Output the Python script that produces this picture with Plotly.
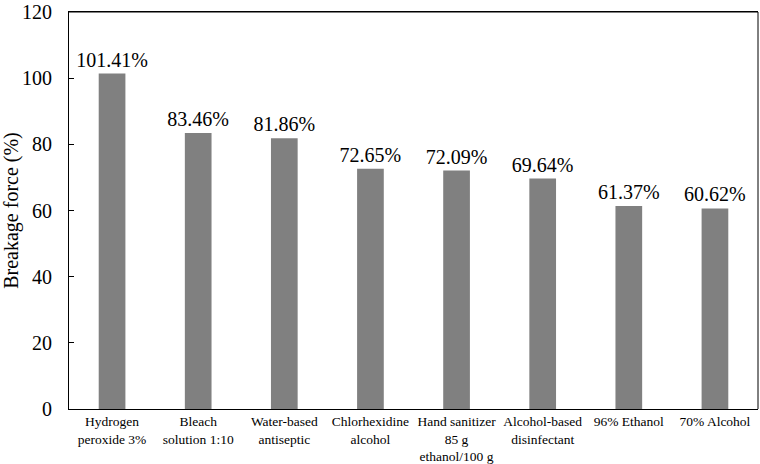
import plotly.graph_objects as go

categories = ["Hydrogen<br>peroxide 3%", "Bleach<br>solution 1:10", "Water-based<br>antiseptic",
              "Chlorhexidine<br>alcohol", "Hand sanitizer<br>85 g<br>ethanol/100 g",
              "Alcohol-based<br>disinfectant", "96% Ethanol", "70% Alcohol"]
values = [101.41, 83.46, 81.86, 72.65, 72.09, 69.64, 61.37, 60.62]
labels = [f"{v:.2f}%" for v in values]

SERIF = "Liberation Serif, Times New Roman, serif"

fig = go.Figure(go.Bar(
    x=categories, y=values, text=labels, textposition="outside",
    marker=dict(color="#808080", line=dict(width=0)),
    width=0.31, cliponaxis=False, constraintext="none",
    textfont=dict(family=SERIF, size=20, color="black"),
    outsidetextfont=dict(family=SERIF, size=20, color="black"),
))
fig.update_layout(
    width=760, height=464,
    margin=dict(l=69, r=2, t=12, b=55),
    paper_bgcolor="white", plot_bgcolor="white",
    font=dict(family=SERIF, color="black"),
    showlegend=False,
)
fig.update_xaxes(showline=True, linecolor="black", linewidth=1, mirror=True,
                 ticks="", tickfont=dict(family=SERIF, size=13.5), showgrid=False, automargin=False)
fig.update_yaxes(range=[0, 120], dtick=20, showline=True, linecolor="black", linewidth=1,
                 mirror=False, ticks="inside", ticklen=5, tickcolor="black",
                 ticklabelstandoff=12,
                 tickfont=dict(family=SERIF, size=20), showgrid=False, zeroline=False, automargin=False,
                 title=dict(text="Breakage force (%)", font=dict(family=SERIF, size=20), standoff=4))
fig.add_shape(type="line", xref="paper", yref="paper", x0=0, x1=1, y0=1, y1=1,
              line=dict(color="black", width=1))
fig.add_shape(type="line", xref="paper", yref="paper", x0=1, x1=1, y0=0, y1=1,
              line=dict(color="black", width=1))
fig.write_html("out.html", post_script="document.body.style.margin='0';",
               config={"displayModeBar": False})
